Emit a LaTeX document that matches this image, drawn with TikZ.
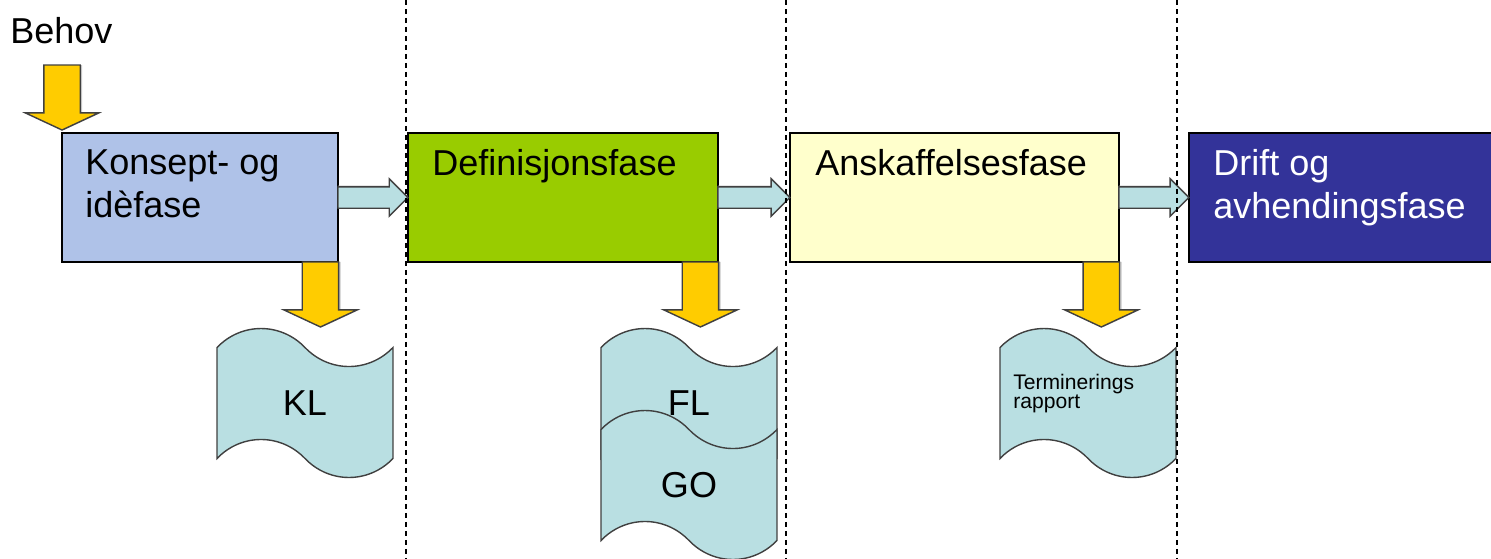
\documentclass[tikz,border=0pt]{standalone}
\usepackage{fontspec}
\setmainfont{Liberation Sans}
\usetikzlibrary{positioning,calc,shapes.arrows,shapes.symbols,shadows}
\definecolor{konseptblaa}{RGB}{175,194,232}
\definecolor{defgronn}{RGB}{153,204,0}
\definecolor{anskgul}{RGB}{255,255,204}
\definecolor{driftblaa}{RGB}{51,51,153}
\definecolor{pilgul}{RGB}{255,204,0}
\definecolor{dokblaa}{RGB}{185,223,226}
\tikzset{
    %Define style for phase boxes
    fase/.style={
           rectangle,
           draw=black, line width=1.1pt,
           minimum height=2.58cm,
           inner sep=0pt, outer sep=0pt},
    fasetekst/.style={
           anchor=north west,
           inner sep=0pt,
           align=left,
           font=\fontsize{20.5}{24.5}\selectfont},
    %Define style for documents
    dokument/.style={
           tape,
           tape bend top=out and in,
           tape bend bottom=out and in,
           draw=black!75, line width=0.8pt,
           fill=dokblaa,
           minimum width=3.52cm,
           minimum height=2.98cm,
           tape bend height=0.76cm,
           inner sep=0pt,
           font=\fontsize{20.5}{24.5}\selectfont},
    % Define arrow styles
    tverrpil/.style={
           single arrow,
           anchor=tail,
           draw=black!75, line width=0.8pt,
           fill=dokblaa,
           drop shadow={shadow xshift=0cm, shadow yshift=0.03cm, fill=black!30},
           minimum height=1.4cm,
           single arrow head extend=0.16cm,
           single arrow tip angle=90,
           inner sep=0.2cm, outer sep=0pt},
    nedpil/.style={
           single arrow,
           shape border rotate=270,
           draw=black!75, line width=0.8pt,
           fill=pilgul,
           drop shadow={shadow xshift=0.04cm, shadow yshift=0cm, fill=black!45},
           minimum height=1.3cm,
           single arrow head extend=0.37cm,
           single arrow tip angle=130,
           inner sep=0.35cm, outer sep=0pt},
    skillelinje/.style={
           draw=black, line width=0.7pt,
           dash pattern=on 0.1cm off 0.08cm}
}
\begin{document}
\begin{tikzpicture}[x=0.02cm,y=-0.02cm]
\useasboundingbox (0,0) rectangle (1491,558);
 %phases
\node[fase, fill=konseptblaa, minimum width=5.52cm](konsept) at (200,197.5){};
\node[fase, fill=defgronn, minimum width=6.2cm, right=1.4cm of konsept](def){};
\node[fase, fill=anskgul, minimum width=6.58cm, right=1.44cm of def](ansk){};
\node[fase, fill=driftblaa, minimum width=6.12cm, right=1.4cm of ansk](drift){};
\node[fasetekst](konsepttekst) at (85,149){Konsept- og\\idèfase};
\node[fasetekst](deftekst) at (432,149){Definisjonsfase};
\node[fasetekst](anskt) at (815,149){Anskaffelsesfase};
\node[fasetekst, text=white](drifttekst) at (1213,149){Drift og\\avhendingsfase};
\node[fasetekst](behov) at (10,17){Behov};
 %documents
\node[dokument](kl) at (305,403){KL};
\node[dokument](fl) at (689,403){FL};
\node[dokument](go) at (689,485){GO};
\node[dokument](term) at (1088,403){};
\node[anchor=north west, inner sep=0pt, align=left,
  font=\fontsize{12}{11}\selectfont](termtekst) at (1013,374){Terminerings\\rapport};
 %arrows
\node[nedpil, anchor=tip](behovpil) at ($(konsept.north west)+(0,-3)$){};
\node[nedpil, anchor=tail](klpil) at ($(konsept.south east)+(-17.5,0)$){};
\node[nedpil, anchor=tail](flpil) at ($(def.south east)+(-17.5,0)$){};
\node[nedpil, anchor=tail](termpil) at ($(ansk.south east)+(-17.5,0)$){};
\node[tverrpil](pil1) at (konsept.east){};
\node[tverrpil, minimum height=1.44cm](pil2) at (def.east){};
\node[tverrpil](pil3) at (ansk.east){};
 %phase borders
\draw[skillelinje] (406,0) -- (406,558);
\draw[skillelinje] (786,0) -- (786,558);
\draw[skillelinje] (1177,0) -- (1177,558);
\end{tikzpicture}
\end{document}
